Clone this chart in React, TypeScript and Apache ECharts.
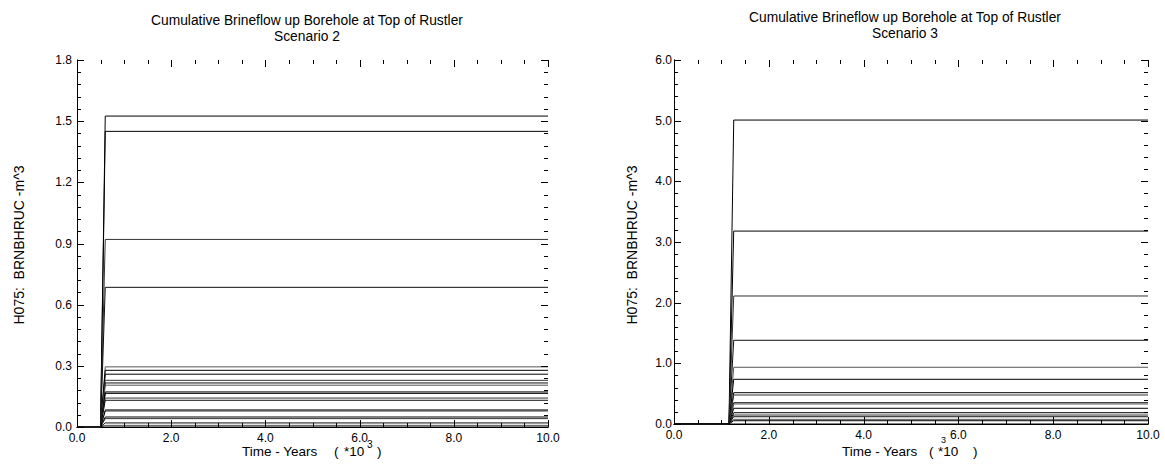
import React, { useEffect, useRef } from "react";
import * as echarts from "echarts";

const titleLine1 = "Cumulative Brineflow up Borehole at Top of Rustler";
const scenarioLeft = "Scenario 2";
const scenarioRight = "Scenario 3";
const yName = "H075:  BRNBHRUC -m^3";

// Time axis (*10^3 years)
const xTicks = [0, 2, 4, 6, 8, 10];
const xMinorPerMajor = 4;

// Scenario 2 axis and final cumulative values (m^3)
const s2YTicks = [0, 0.3, 0.6, 0.9, 1.2, 1.5, 1.8];
const s2Values = [1.525, 1.45, 0.92, 0.685, 0.295, 0.278, 0.259, 0.229, 0.216, 0.205, 0.172, 0.165, 0.142, 0.131, 0.085, 0.079, 0.049, 0.041, 0.02, 0.008, 0.0];
const s2Start = 0.5;
const s2Rise = 0.6;

// Scenario 3 axis and final cumulative values (m^3)
const s3YTicks = [0, 1, 2, 3, 4, 5, 6];
const s3Values = [5.01, 3.18, 2.11, 1.38, 0.935, 0.737, 0.516, 0.478, 0.351, 0.33, 0.259, 0.186, 0.148, 0.12, 0.077, 0.054, 0.0];
const s3Start = 1.16;
const s3Rise = 1.26;
const yMinorPerMajor = 5;

const colors = ["#000000", "#000000", "#333333", "#111111", "#555555"];
const font = "'Liberation Sans', Arial, sans-serif";

function buildSeries(values: number[], start: number, rise: number, xi: number, yi: number) {
  const xMax = xTicks[xTicks.length - 1];
  return values.map((v, i) => ({
    type: "line",
    xAxisIndex: xi,
    yAxisIndex: yi,
    showSymbol: false,
    symbol: "none",
    silent: true,
    lineStyle: { color: colors[i % colors.length], width: 1 },
    data: [
      [0, 0],
      [start, 0],
      [rise, v],
      [xMax, v],
    ],
  }));
}

// tick list: [value, isMajor, direction(0 = on x axes, 1 = on y axes)]
function tickData(majors: number[], minorPer: number, dir: number) {
  const out: number[][] = [];
  for (let i = 0; i < majors.length; i++) {
    out.push([majors[i], 1, dir]);
    if (i < majors.length - 1) {
      const step = (majors[i + 1] - majors[i]) / minorPer;
      for (let k = 1; k < minorPer; k++) out.push([majors[i] + k * step, 0, dir]);
    }
  }
  return out;
}

function tickSeries(yTicks: number[], xi: number, yi: number) {
  const xMin = xTicks[0];
  const xMax = xTicks[xTicks.length - 1];
  const yMin = yTicks[0];
  const yMax = yTicks[yTicks.length - 1];
  const data = [...tickData(xTicks, xMinorPerMajor, 0), ...tickData(yTicks, yMinorPerMajor, 1)];
  return {
    type: "custom",
    xAxisIndex: xi,
    yAxisIndex: yi,
    silent: true,
    clip: false,
    z: 10,
    data,
    renderItem: (params: any, api: any) => {
      const v = api.value(0);
      const major = api.value(1) === 1;
      const dir = api.value(2);
      const len = major ? 7 : 4;
      const st = { stroke: "#000", lineWidth: 1 };
      if (dir === 0) {
        const b = api.coord([v, yMin]);
        const t = api.coord([v, yMax]);
        const x = Math.round(b[0]) + 0.5;
        return {
          type: "group",
          children: [
            { type: "line", shape: { x1: x, y1: b[1], x2: x, y2: b[1] - len }, style: st },
            { type: "line", shape: { x1: x, y1: t[1], x2: x, y2: t[1] + len }, style: st },
          ],
        };
      }
      const l = api.coord([xMin, v]);
      const r = api.coord([xMax, v]);
      const y = Math.round(l[1]) + 0.5;
      return {
        type: "group",
        children: [
          { type: "line", shape: { x1: l[0], y1: y, x2: l[0] + len, y2: y }, style: st },
          { type: "line", shape: { x1: r[0], y1: y, x2: r[0] - len, y2: y }, style: st },
        ],
      };
    },
  };
}

function xAxisPair(gridIndex: number) {
  const mk = (pos: string, lbl: boolean) => ({
    gridIndex,
    type: "value",
    min: xTicks[0],
    max: xTicks[xTicks.length - 1],
    interval: xTicks[1] - xTicks[0],
    position: pos,
    axisLine: { show: true, lineStyle: { color: "#000" } },
    axisTick: { show: false },
    minorTick: { show: false },
    splitLine: { show: false },
    axisLabel: lbl ? { color: "#000", fontSize: 12, fontFamily: font, margin: 5, formatter: (v: number) => v.toFixed(1) } : { show: false },
  });
  return [mk("bottom", true), mk("top", false)];
}
function yAxisPair(gridIndex: number, ticks: number[], margin: number) {
  const mk = (pos: string, lbl: boolean) => ({
    gridIndex,
    type: "value",
    min: ticks[0],
    max: ticks[ticks.length - 1],
    interval: ticks[1] - ticks[0],
    position: pos,
    axisLine: { show: true, lineStyle: { color: "#000" } },
    axisTick: { show: false },
    minorTick: { show: false },
    splitLine: { show: false },
    axisLabel: lbl ? { color: "#000", fontSize: 12, fontFamily: font, margin, formatter: (v: number) => v.toFixed(1) } : { show: false },
  });
  return [mk("left", true), mk("right", false)];
}

export default function App() {
  const ref = useRef<HTMLDivElement>(null);
  useEffect(() => {
    if (!ref.current) return;
    const chart = echarts.init(ref.current, null, { renderer: "svg" });
    const txt = (text: string, x: number, y: number, size = 13.5, align = "center", rotation = 0) => ({
      type: "text",
      x,
      y,
      rotation,
      silent: true,
      style: { text, fill: "#000", fontSize: size, fontFamily: font, align, verticalAlign: "middle" },
    });
    chart.setOption({
      animation: false,
      backgroundColor: "#fff",
      grid: [
        { left: 77, right: 617, top: 60, bottom: 39 },
        { left: 674, right: 17, top: 60, bottom: 42 },
      ],
      xAxis: [...xAxisPair(0), ...xAxisPair(1)],
      yAxis: [...yAxisPair(0, s2YTicks, 5), ...yAxisPair(1, s3YTicks, 2)],
      series: [
        ...buildSeries(s2Values, s2Start, s2Rise, 0, 0),
        ...buildSeries(s3Values, s3Start, s3Rise, 2, 2),
        tickSeries(s2YTicks, 0, 0),
        tickSeries(s3YTicks, 2, 2),
      ],
      graphic: [
        txt(titleLine1, 307, 20, 13.8),
        txt(scenarioLeft, 307, 36, 13.8),
        txt(titleLine1, 905, 17, 13.8),
        txt(scenarioRight, 905, 33, 13.8),
        txt(yName, 19, 245, 14, "center", Math.PI / 2),
        txt(yName, 632, 245, 14, "center", Math.PI / 2),
        txt("Time - Years", 242, 451, 13.5, "left"),
        txt("(", 334, 451, 13.5, "left"),
        txt("*10", 344, 451, 13.5, "left"),
        txt("3", 367, 444, 10, "left"),
        txt(")", 377, 451, 13.5, "left"),
        txt("Time - Years", 842, 451, 13.5, "left"),
        txt("(", 929, 451, 13.5, "left"),
        txt("*10", 938, 451, 13.5, "left"),
        txt("3", 941, 439.5, 9, "left"),
        txt(")", 973, 451, 13.5, "left"),
      ],
    });
    return () => chart.dispose();
  }, []);
  return <div ref={ref} style={{ width: 1165, height: 466, position: "absolute", left: 0, top: 0 }} />;
}
